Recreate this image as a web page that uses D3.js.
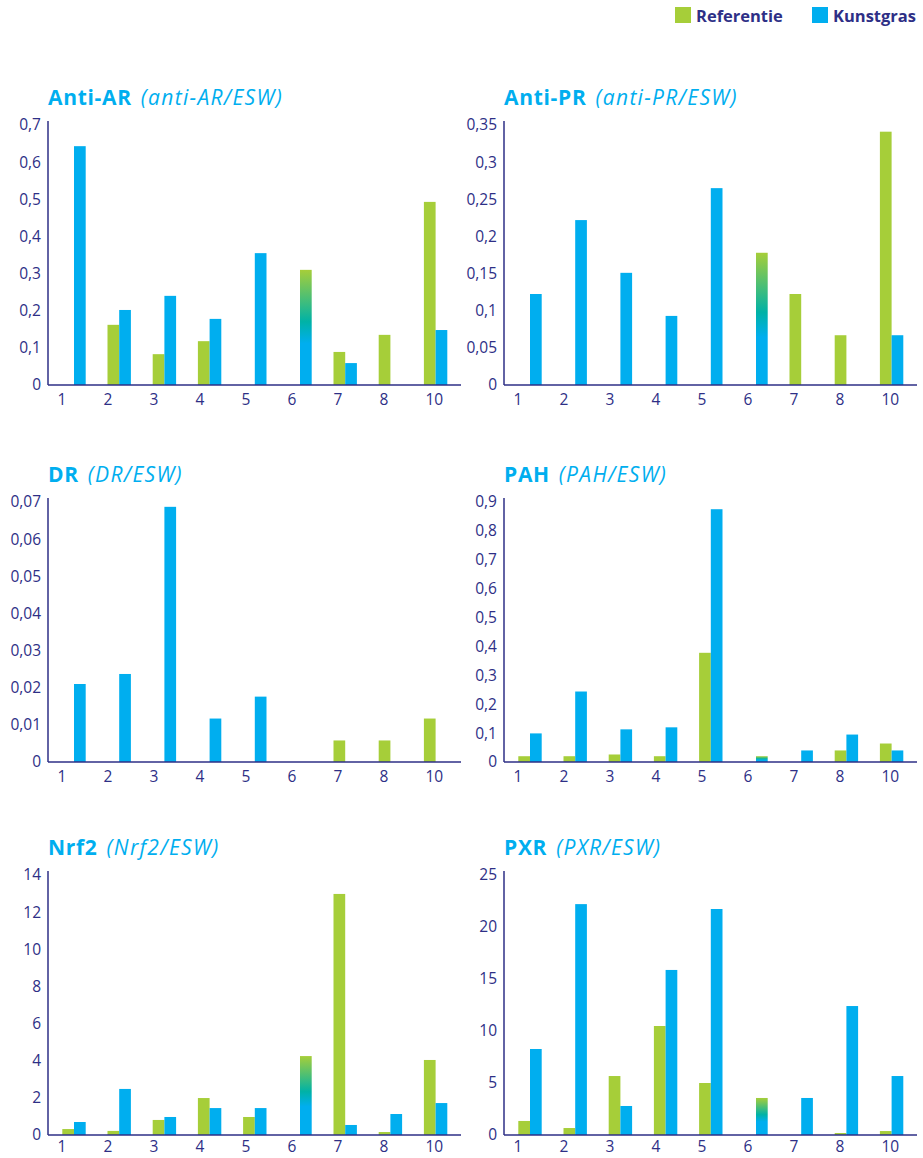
<!DOCTYPE html>
<html>
<head>
<meta charset="utf-8">
<script src="https://cdn.jsdelivr.net/npm/d3@7"></script>
<style>
  body { margin: 0; background: #fff; }
  svg text { font-family: "Open Sans", "Noto Sans", sans-serif; }
  .tick text { fill: #2e2f86; font-size: 15.5px; }
</style>
</head>
<body>
<div id="chart"></div>
<script>

// categories (sample numbers, 9 is missing in the source)
var categories = ["1", "2", "3", "4", "5", "6", "7", "8", "10"];

// Anti-AR
var antiAR_ref = [0, 0.162, 0.083, 0.118, 0, 0, 0.089, 0.135, 0.493];
var antiAR_kg  = [0.643, 0.202, 0.240, 0.178, 0.355, 0.310, 0.059, 0, 0.148];
var antiAR_ticks = [0, 0.1, 0.2, 0.3, 0.4, 0.5, 0.6, 0.7];
var antiAR_tickLabels = ["0", "0,1", "0,2", "0,3", "0,4", "0,5", "0,6", "0,7"];

// Anti-PR
var antiPR_ref = [0, 0, 0, 0, 0, 0, 0.1225, 0.067, 0.341];
var antiPR_kg  = [0.1225, 0.222, 0.151, 0.093, 0.265, 0.178, 0, 0, 0.067];
var antiPR_ticks = [0, 0.05, 0.1, 0.15, 0.2, 0.25, 0.3, 0.35];
var antiPR_tickLabels = ["0", "0,05", "0,1", "0,15", "0,2", "0,25", "0,3", "0,35"];

// DR
var dr_ref = [0, 0, 0, 0, 0, 0, 0.0058, 0.0058, 0.0117];
var dr_kg  = [0.0210, 0.0237, 0.0687, 0.0117, 0.0176, 0, 0, 0, 0];
var dr_ticks = [0, 0.01, 0.02, 0.03, 0.04, 0.05, 0.06, 0.07];
var dr_tickLabels = ["0", "0,01", "0,02", "0,03", "0,04", "0,05", "0,06", "0,07"];

// PAH
var pah_ref = [0.02, 0.02, 0.026, 0.02, 0.378, 0, 0, 0.040, 0.064];
var pah_kg  = [0.099, 0.244, 0.113, 0.12, 0.875, 0.02, 0.040, 0.095, 0.040];
var pah_ticks = [0, 0.1, 0.2, 0.3, 0.4, 0.5, 0.6, 0.7, 0.8, 0.9];
var pah_tickLabels = ["0", "0,1", "0,2", "0,3", "0,4", "0,5", "0,6", "0,7", "0,8", "0,9"];

// Nrf2
var nrf2_ref = [0.32, 0.22, 0.81, 1.99, 0.97, 0, 12.98, 0.16, 4.04];
var nrf2_kg  = [0.70, 2.48, 0.97, 1.45, 1.45, 4.25, 0.54, 1.13, 1.72];
var nrf2_ticks = [0, 2, 4, 6, 8, 10, 12, 14];
var nrf2_tickLabels = ["0", "2", "4", "6", "8", "10", "12", "14"];

// PXR
var pxr_ref = [1.35, 0.67, 5.67, 10.48, 5.0, 0, 0, 0.19, 0.38];
var pxr_kg  = [8.27, 22.2, 2.79, 15.87, 21.73, 3.56, 3.56, 12.4, 5.67];
var pxr_ticks = [0, 5, 10, 15, 20, 25];
var pxr_tickLabels = ["0", "5", "10", "15", "20", "25"];

var legendLabels = ["Referentie", "Kunstgras"];

var green = "#a6ce39";
var blue = "#00aeef";
var navy = "#2e2f86";

var panels = [
  {title: "Anti-AR", sub: "(anti-AR/ESW)", ref: antiAR_ref, kg: antiAR_kg, ticks: antiAR_ticks, labels: antiAR_tickLabels, col: 0, row: 0},
  {title: "Anti-PR", sub: "(anti-PR/ESW)", ref: antiPR_ref, kg: antiPR_kg, ticks: antiPR_ticks, labels: antiPR_tickLabels, col: 1, row: 0},
  {title: "DR", sub: "(DR/ESW)", ref: dr_ref, kg: dr_kg, ticks: dr_ticks, labels: dr_tickLabels, col: 0, row: 1},
  {title: "PAH", sub: "(PAH/ESW)", ref: pah_ref, kg: pah_kg, ticks: pah_ticks, labels: pah_tickLabels, col: 1, row: 1},
  {title: "Nrf2", sub: "(Nrf2/ESW)", ref: nrf2_ref, kg: nrf2_kg, ticks: nrf2_ticks, labels: nrf2_tickLabels, col: 0, row: 2},
  {title: "PXR", sub: "(PXR/ESW)", ref: pxr_ref, kg: pxr_kg, ticks: pxr_ticks, labels: pxr_tickLabels, col: 1, row: 2}
];

var svgWidth = 923, svgHeight = 1158;

var svg = d3.select("#chart")
  .append("svg")
  .attr("width", svgWidth)
  .attr("height", svgHeight);

// gradient for the mixed bar at sample 6
var grad = svg.append("defs").append("linearGradient")
  .attr("id", "mix")
  .attr("x1", 0).attr("y1", 0).attr("x2", 0).attr("y2", 1);
grad.append("stop").attr("offset", "0%").attr("stop-color", green);
grad.append("stop").attr("offset", "45%").attr("stop-color", "#00b2a6");
grad.append("stop").attr("offset", "64%").attr("stop-color", blue);
grad.append("stop").attr("offset", "100%").attr("stop-color", blue);

// legend
var legend = svg.append("g").attr("transform", "translate(675,7)");
var legendX = [0, 137];
legendLabels.forEach(function(l, i) {
  legend.append("rect")
    .attr("x", legendX[i]).attr("y", 0)
    .attr("width", 16).attr("height", 16)
    .attr("fill", i == 0 ? green : blue);
  legend.append("text")
    .attr("x", legendX[i] + 21).attr("y", 15)
    .attr("fill", navy)
    .attr("font-size", "16.5px")
    .attr("font-weight", "bold")
    .text(l);
});

var colX = [48, 504];        // y axis position per column
var rowBase = [385, 762, 1135]; // baseline per row
var plotH = 260;
var axisW = 413;

panels.forEach(function(p) {
  var ox = colX[p.col];
  var base = rowBase[p.row];

  var g = svg.append("g").attr("transform", `translate(${ox},${base - plotH})`);

  var y = d3.scaleLinear()
    .domain([0, d3.max(p.ticks)])
    .range([plotH, 0]);

  var x = d3.scaleBand()
    .domain(categories)
    .range([3.4, 3.4 + 45.2 * 9]);

  var xSub = d3.scaleBand()
    .domain(["ref", "kg"])
    .range([x.bandwidth() / 2 - 11.7, x.bandwidth() / 2 + 11.7]);

  var xLabel = d3.scalePoint()
    .domain(categories)
    .range([9, 9 + 46 * 8]);

  // bars
  var rows = categories.map(function(c, i) { return {cat: c, ref: p.ref[i], kg: p.kg[i]}; });

  g.selectAll(".ref")
    .data(rows.filter(d => d.ref > 0))
    .enter()
    .append("rect")
    .attr("class", "ref")
    .attr("x", d => x(d.cat) + xSub("ref"))
    .attr("width", xSub.bandwidth())
    .attr("y", d => y(d.ref))
    .attr("height", d => y(0) - y(d.ref))
    .attr("fill", green);

  g.selectAll(".kg")
    .data(rows.filter(d => d.kg > 0))
    .enter()
    .append("rect")
    .attr("class", "kg")
    .attr("x", d => x(d.cat) + xSub("kg"))
    .attr("width", xSub.bandwidth())
    .attr("y", d => y(d.kg))
    .attr("height", d => y(0) - y(d.kg))
    .attr("fill", d => d.cat == "6" ? "url(#mix)" : blue);

  // y axis labels
  g.append("g")
    .call(d3.axisLeft(y)
      .tickValues(p.ticks)
      .tickSize(0)
      .tickPadding(7)
      .tickFormat((d, i) => p.labels[i]))
    .call(a => a.select(".domain").remove());

  // x axis labels (bottom row a bit higher so it stays inside the page)
  g.append("g")
    .attr("transform", `translate(0,${plotH})`)
    .call(d3.axisBottom(xLabel).tickSize(0).tickPadding(p.row == 2 ? 6 : 9))
    .call(a => a.select(".domain").remove())
    .selectAll("text")
    .attr("text-anchor", "start");

  // axis lines
  g.append("line")
    .attr("x1", 0).attr("x2", 0)
    .attr("y1", plotH).attr("y2", -4)
    .attr("stroke", navy).attr("stroke-width", 1.5);
  g.append("line")
    .attr("x1", 0).attr("x2", axisW)
    .attr("y1", plotH).attr("y2", plotH)
    .attr("stroke", navy).attr("stroke-width", 1.5);

  // title
  var t = g.append("text")
    .attr("x", 0)
    .attr("y", -20)
    .attr("fill", blue)
    .attr("font-size", "21px");
  t.append("tspan").attr("font-weight", "bold").attr("letter-spacing", "0.7px").text(p.title);
  t.append("tspan").attr("dx", 9).attr("font-style", "italic").attr("letter-spacing", "1.3px").text(p.sub);
});

</script>
</body>
</html>
